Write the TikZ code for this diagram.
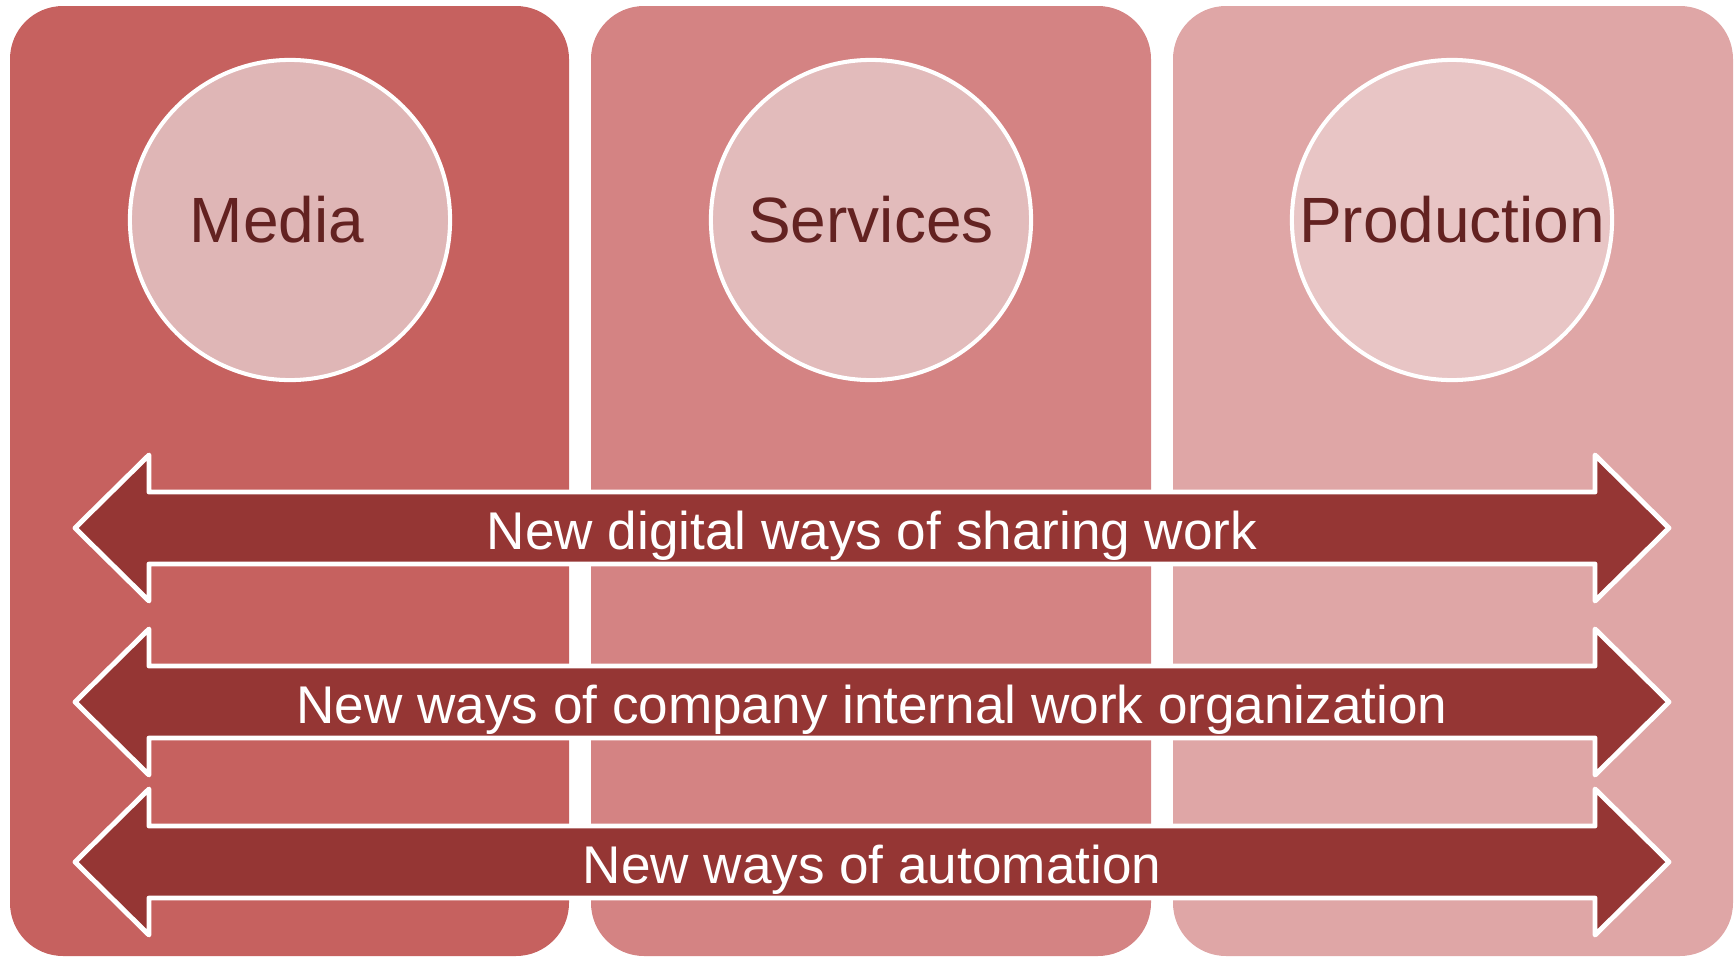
\documentclass[tikz,border=0pt]{standalone}
\usepackage{fontspec}
\setmainfont{Liberation Sans}
\definecolor{colA}{RGB}{198,97,95}
\definecolor{colB}{RGB}{212,131,131}
\definecolor{colC}{RGB}{223,166,166}
\definecolor{discA}{RGB}{223,182,182}
\definecolor{discB}{RGB}{226,187,187}
\definecolor{discC}{RGB}{232,197,197}
\definecolor{arrowred}{RGB}{149,54,52}
\definecolor{labelred}{RGB}{99,34,33}
\newcommand{\biglbl}  {\fontsize{18.2}{22}\selectfont}
\newcommand{\barlbl}  {\fontsize{15.1}{18}\selectfont}

\begin{document}
\begin{tikzpicture}[x=0.01cm,y=-0.01cm,
    panel/.style={rounded corners=5.3mm,draw=none},
    disc/.style={circle,draw=white,line width=1.15pt,minimum size=3.2cm,
                 inner sep=0pt,text=labelred,font=\biglbl},
    band/.style={fill=arrowred,draw=white,line width=1.4pt,line join=round},
    bandtext/.style={anchor=base,text=white,font=\barlbl,inner sep=0pt}]
     \useasboundingbox (0,0) rectangle (1735,957);
     % three columns
     \fill[panel,colA] (10,6) rectangle (569,956);
     \fill[panel,colB] (591,6) rectangle (1151,956);
     \fill[panel,colC] (1173,6) rectangle (1733,956);
     % column titles
     \node[disc,fill=discA] (media)    at (290,220)  {Media\rule{0.26cm}{0pt}};
     \node[disc,fill=discB] (services) at (871,220)  {Services};
     \node[disc,fill=discC] (prod)     at (1452,220) {Production};
     % double arrows across all columns
     \foreach \y/\nm/\txt in {528/sharing/New digital ways of sharing work,
                              702/internal/New ways of company internal work organization,
                              862/automation/New ways of automation} {
       \filldraw[band] (75,\y) -- (149,\y-73) -- (149,\y-36) -- (1595,\y-36)
         -- (1595,\y-73) -- (1669,\y) -- (1595,\y+73) -- (1595,\y+36)
         -- (149,\y+36) -- (149,\y+73) -- cycle;
       \node[bandtext] (\nm) at (872,\y+21) {\txt};
     }
    \end{tikzpicture}
\end{document}
